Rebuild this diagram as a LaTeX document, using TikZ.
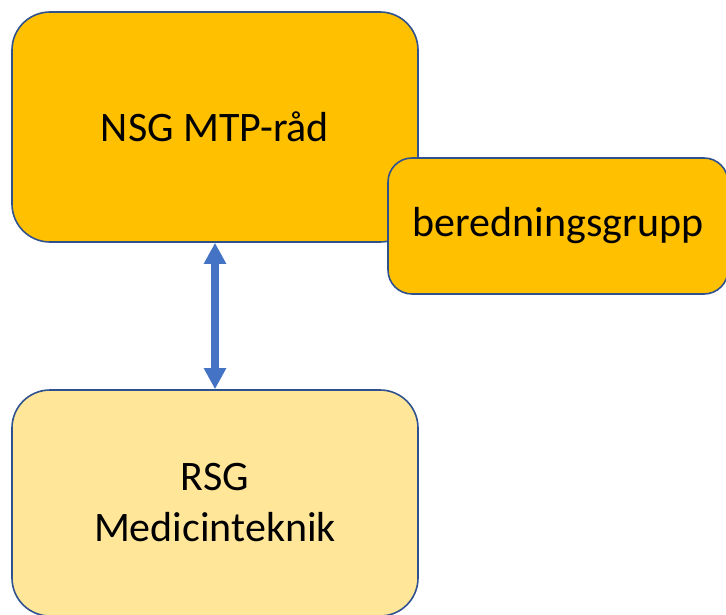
\documentclass[tikz,border=0pt]{standalone}
\usepackage{fontspec}
\setmainfont{Carlito}
\usetikzlibrary{arrows.meta}
\definecolor{orangeA}{HTML}{FFC000}
\definecolor{lightA}{HTML}{FFE699}
\definecolor{borderA}{HTML}{2F528F}
\definecolor{arrowA}{HTML}{4472C4}
\tikzset{
  box/.style={draw=borderA, line width=1.6pt, rounded corners=#1, align=center,
    font=\fontsize{42}{51}\selectfont, inner sep=0pt},
  conn/.style={draw=arrowA, line width=8pt,
    {Triangle[width=21pt,length=21pt]}-{Triangle[width=21pt,length=21pt]}}
}
\begin{document}
\begin{tikzpicture}[x=1pt,y=-1pt]
\useasboundingbox (0,0) rectangle (726,615);
\clip (0,0) rectangle (726,615);
\node[box=38pt, fill=orangeA, minimum width=406pt, minimum height=230pt] (nsg) at (215,127) {NSG MTP-råd};
\node[box=24pt, fill=orangeA, minimum width=340pt, minimum height=136pt] (ber) at (558,226) {beredningsgrupp};
\node[box=38pt, fill=lightA, minimum width=406pt, minimum height=226pt] (rsg) at (215,503) {RSG\\Medicinteknik};
\draw[conn] (nsg.south) -- (rsg.north);
\end{tikzpicture}
\end{document}
